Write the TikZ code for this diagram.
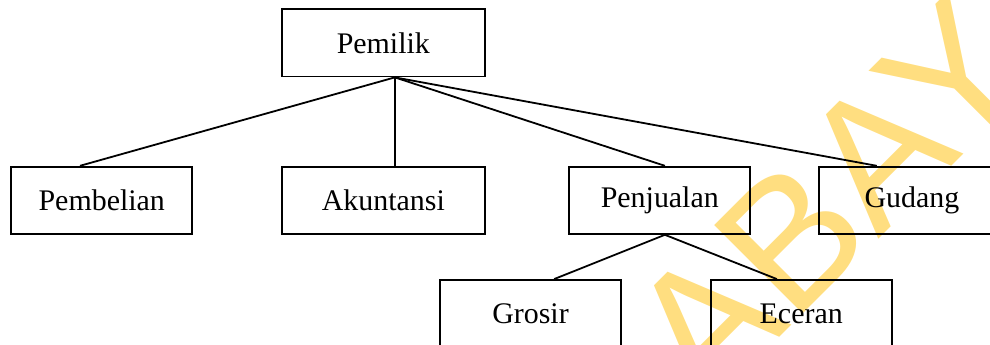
\documentclass[tikz,border=0pt]{standalone}
\usepackage{fontspec}
\setmainfont{Liberation Serif}
\newfontfamily\capfont{Liberation Sans}
\usepackage{tikz}
\usetikzlibrary{positioning}
\definecolor{capkuning}{RGB}{255,222,128}
\tikzset{
  unit/.style={draw=black, line width=0.8pt, minimum width=2.83cm, minimum height=1.05cm,
    inner sep=0pt, font=\fontsize{13.3}{16}\selectfont},
  garis/.style={line width=0.8pt},
  stempel/.style={text=capkuning, inner sep=0pt, font=\capfont\fontsize{80.8}{97}\selectfont},
}

\begin{document}
\begin{tikzpicture}
    \useasboundingbox (0,0) rectangle (15.47,-5.39);
    \clip (0,0) rectangle (15.47,-5.39);
    % tulisan kuning di belakang
    \node[stempel, rotate=45, anchor=base west] (tanda) at (6.80,-10.66) {SURABAYA};

    \node[unit, minimum width=3.17cm] (pml) at (5.99,-0.67) {Pemilik};
    \node[unit] (pbl) at (1.59,-3.13) {Pembelian};
    \node[unit, minimum width=3.17cm] (akt) at (5.99,-3.13) {Akuntansi};
    \node[unit] (pjl) at (10.31,-3.13) {Penjualan};
    \node[unit, minimum width=2.9cm] (gdg) at (14.25,-3.13) {Gudang};
    \node[unit] (grs) at (8.29,-4.90) {Grosir};
    \node[unit] (ecr) at (12.52,-4.90) {Eceran};

    \coordinate (pml-b) at ([xshift=0.18cm]pml.south);
    \coordinate (pjl-b) at ([xshift=0.08cm]pjl.south);

    \draw[garis] (pml-b) -- ([xshift=-0.34cm]pbl.north);
    \draw[garis] (pml-b) -- ([xshift=0.18cm]akt.north);
    \draw[garis] (pml-b) -- ([xshift=0.08cm]pjl.north);
    \draw[garis] (pml-b) -- ([xshift=-0.55cm]gdg.north);
    \draw[garis] (pjl-b) -- ([xshift=0.37cm]grs.north);
    \draw[garis] (pjl-b) -- ([xshift=-0.38cm]ecr.north);
\end{tikzpicture}
\end{document}
